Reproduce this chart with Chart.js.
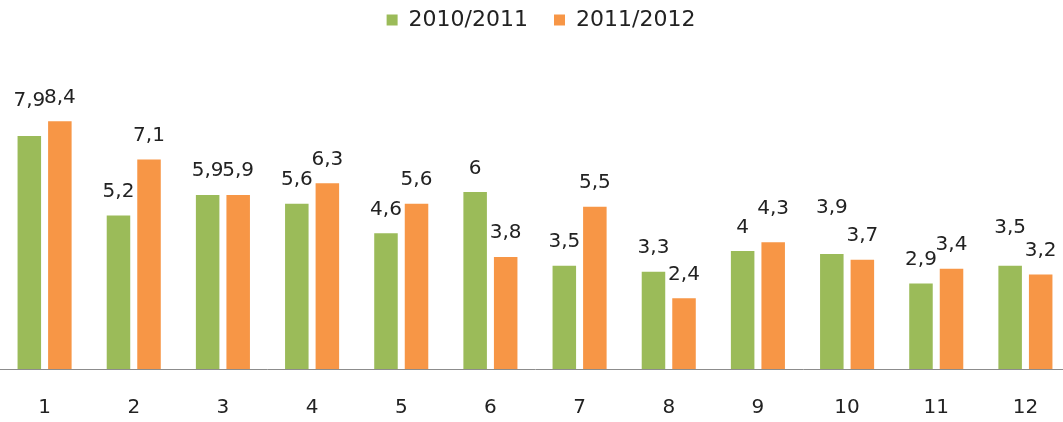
<!DOCTYPE html>
<html>
<head>
<meta charset="utf-8">
<script src="https://cdn.jsdelivr.net/npm/chart.js@4/dist/chart.umd.min.js"></script>
<style>
  html, body { margin: 0; padding: 0; background: #fff; overflow: hidden; width: 1063px; height: 422px; }
  #wrap { position: absolute; left: 0; top: -17px; width: 1070px; height: 467px; }
</style>
</head>
<body>
<div id="wrap"><canvas id="c"></canvas></div>
<script>
const categories = ['1','2','3','4','5','6','7','8','9','10','11','12'];
const seriesNames = ['2010/2011', '2011/2012'];
const values2010 = [7.9, 5.2, 5.9, 5.6, 4.6, 6.0, 3.5, 3.3, 4.0, 3.9, 2.9, 3.5];
const values2011 = [8.4, 7.1, 5.9, 6.3, 5.6, 3.8, 5.5, 2.4, 4.3, 3.7, 3.4, 3.2];

const GREEN = '#9BBB59';
const ORANGE = '#F79646';
const TEXT = '#222222';

Chart.defaults.font.family = "'DejaVu Sans', sans-serif";
Chart.defaults.color = TEXT;

// extra lift (px) for labels that were moved up in the original
const labelLift = { '0-0': 11, '1-8': 10, '0-9': 22, '0-11': 14 };

const valueLabels = {
  id: 'valueLabels',
  afterDatasetsDraw(chart) {
    const ctx = chart.ctx;
    ctx.save();
    ctx.font = "20px 'DejaVu Sans', sans-serif";
    ctx.fillStyle = TEXT;
    ctx.textAlign = 'center';
    ctx.textBaseline = 'alphabetic';
    chart.data.datasets.forEach((ds, di) => {
      const meta = chart.getDatasetMeta(di);
      meta.data.forEach((bar, i) => {
        const v = ds.data[i];
        const txt = String(v).replace('.', ',');
        const lift = labelLift[di + '-' + i] || 0;
        ctx.fillText(txt, bar.x, bar.y - 18.5 - lift);
      });
    });
    ctx.restore();
  }
};

const legendSpacing = {
  id: 'legendSpacing',
  beforeInit(chart) {
    const origFit = chart.legend.fit;
    chart.legend.fit = function () {
      origFit.call(this);
      this.height += 33;
    };
  },
  afterLayout(chart) {
    chart.legend.left += 6;
    chart.legend.right += 6;
  }
};

new Chart(document.getElementById('c'), {
  type: 'bar',
  data: {
    labels: categories,
    datasets: [
      { label: seriesNames[0], data: values2010, backgroundColor: GREEN, borderWidth: 0 },
      { label: seriesNames[1], data: values2011, backgroundColor: ORANGE, borderWidth: 0 }
    ]
  },
  options: {
    responsive: true,
    maintainAspectRatio: false,
    animation: false,
    events: [],
    layout: { padding: { left: 0, right: 0, top: 0, bottom: 3 } },
    datasets: { bar: { categoryPercentage: 0.685, barPercentage: 0.77 } },
    plugins: {
      legend: {
        position: 'top',
        labels: {
          boxWidth: 11,
          boxHeight: 11,
          padding: 26,
          color: TEXT,
          font: { size: 22 }
        }
      },
      tooltip: { enabled: false }
    },
    scales: {
      x: {
        grid: { display: false, drawTicks: false },
        border: { display: true, color: '#8c8c8c', width: 1 },
        ticks: { padding: 27, color: TEXT, font: { size: 20 } }
      },
      y: {
        display: false,
        min: 0,
        max: 10
      }
    }
  },
  plugins: [valueLabels, legendSpacing]
});
</script>
</body>
</html>
